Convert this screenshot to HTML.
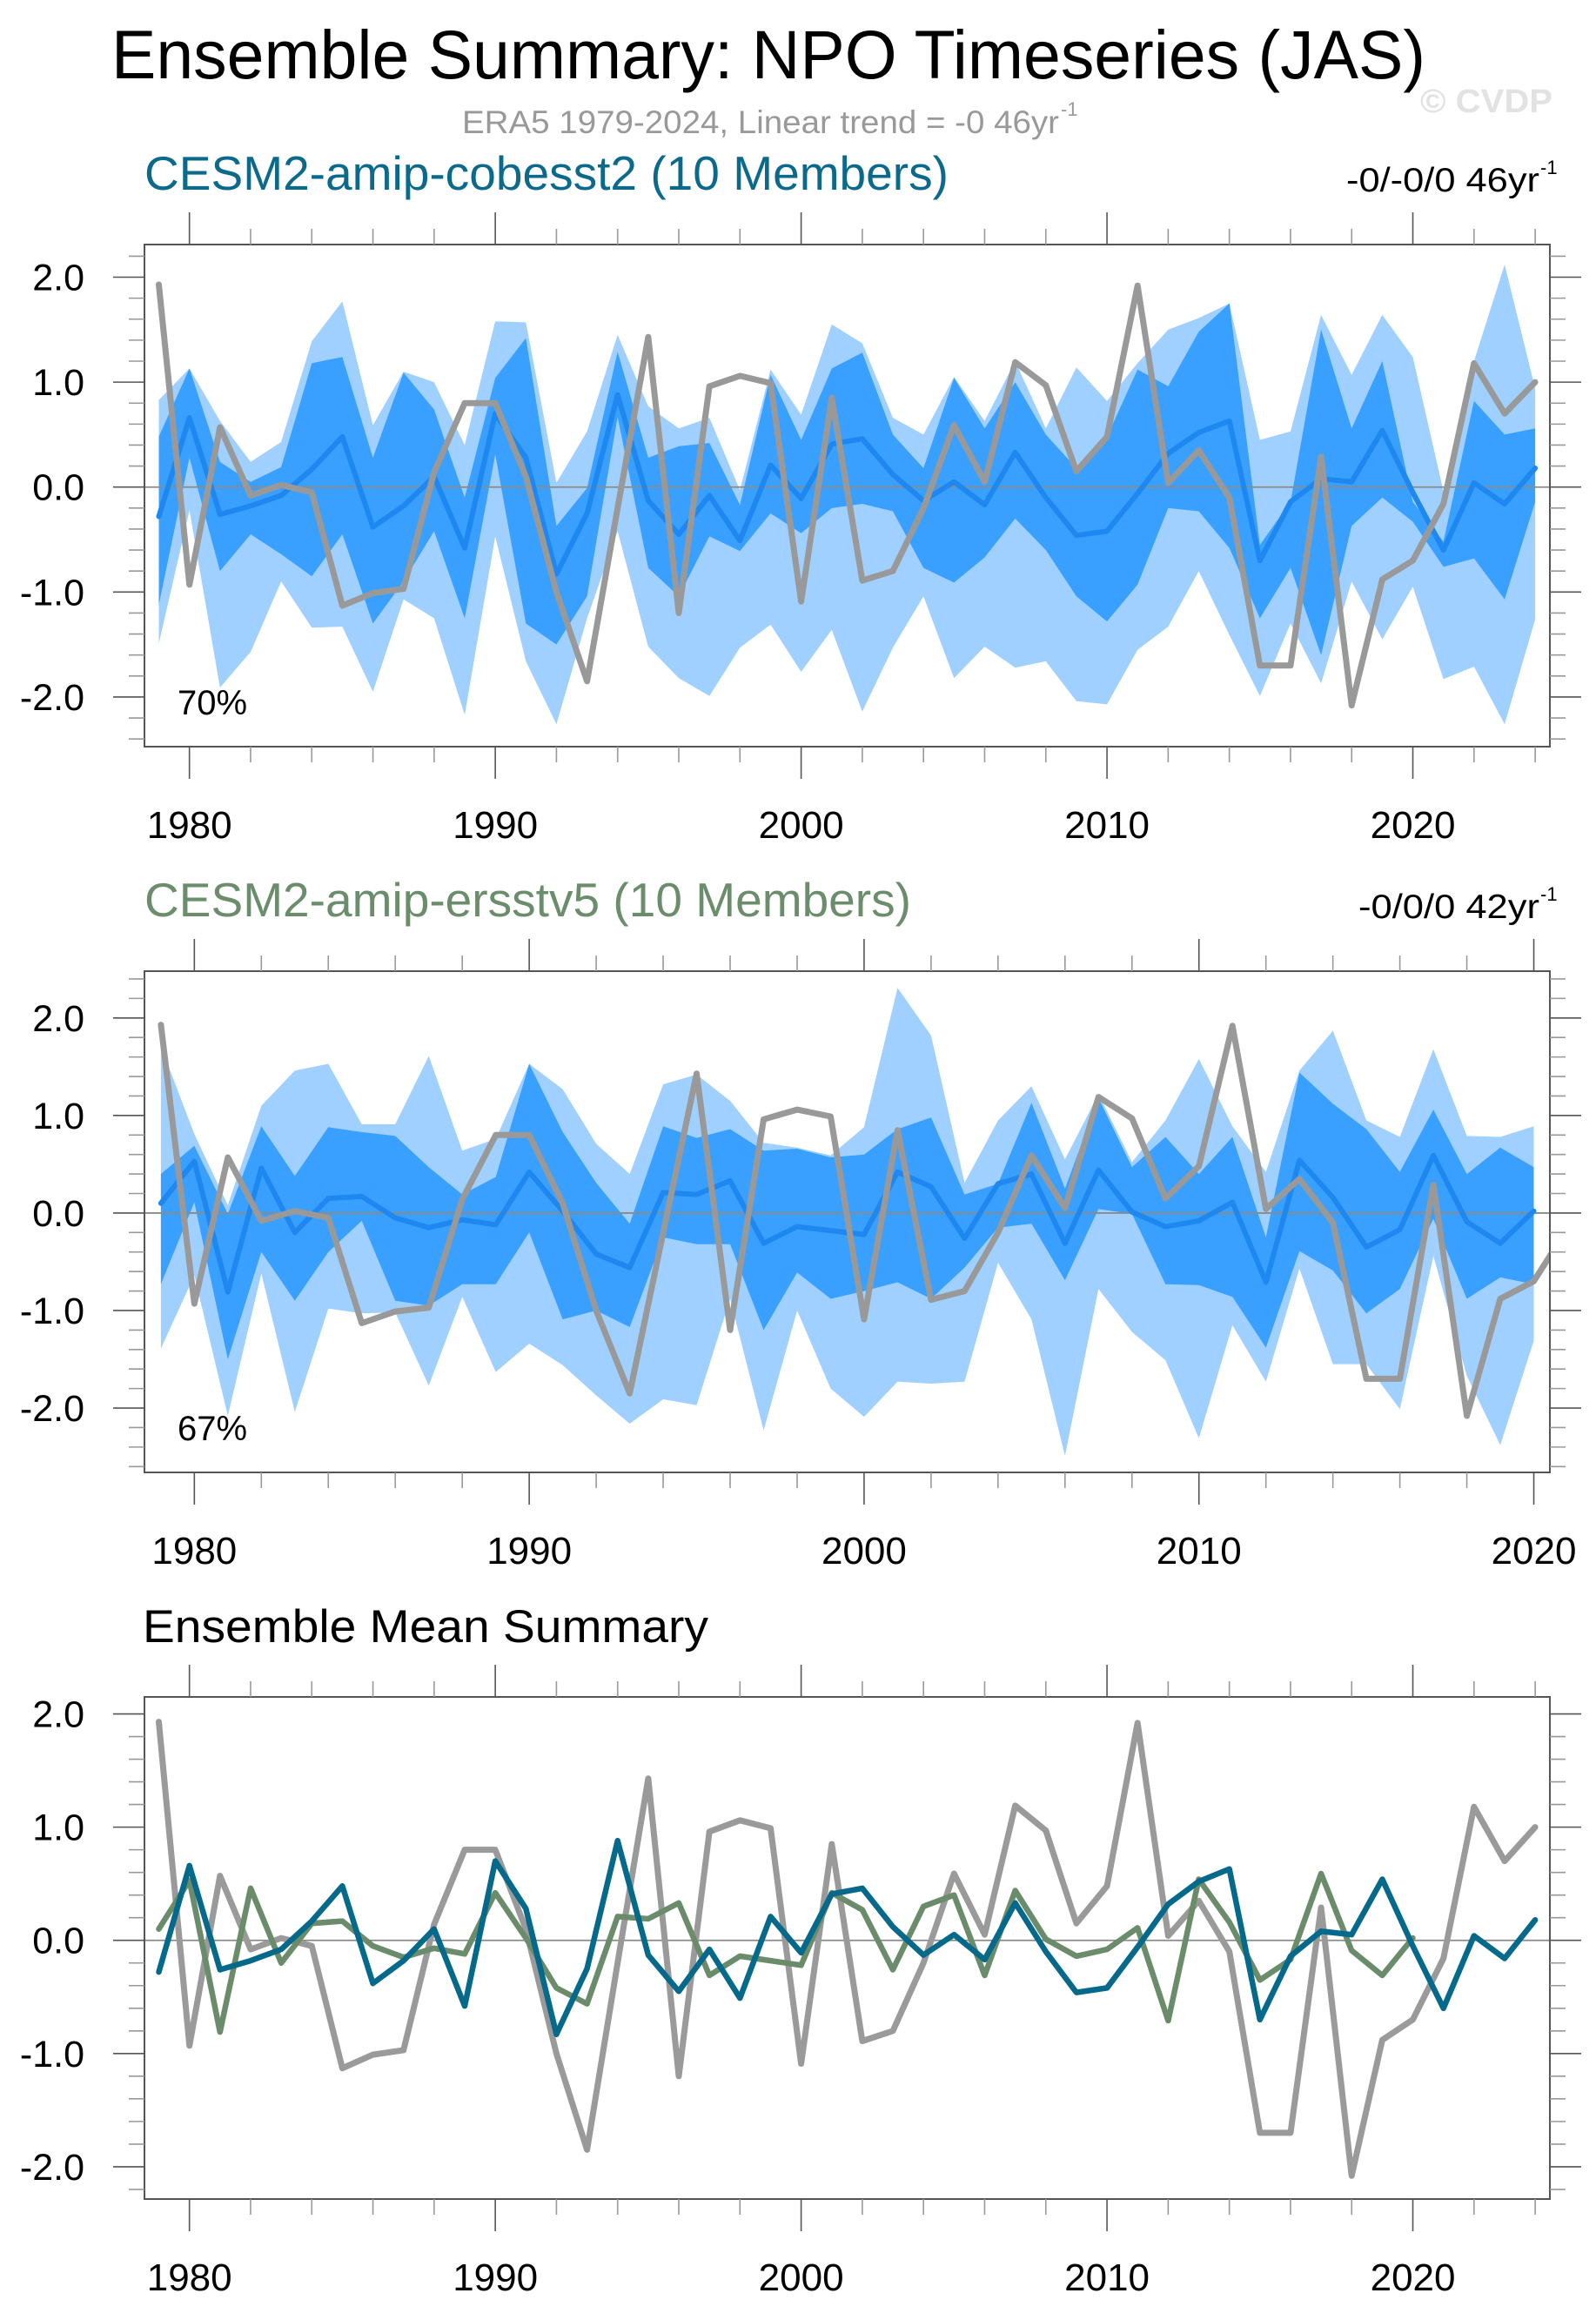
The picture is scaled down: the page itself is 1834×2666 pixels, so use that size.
<!DOCTYPE html>
<html><head><meta charset="utf-8">
<style>
html,body{margin:0;padding:0;background:#fff;}
svg{display:block;font-family:"Liberation Sans",Arial,sans-serif;}
</style></head>
<body>
<svg id="chart" width="1834" height="2666" viewBox="0 0 1834 2666" xmlns="http://www.w3.org/2000/svg">
<rect x="0" y="0" width="1834" height="2666" fill="#fff"/>
<text x="128" y="90" font-size="79" fill="#000" textLength="1510" lengthAdjust="spacingAndGlyphs">Ensemble Summary: NPO Timeseries (JAS)</text>
<text x="1632" y="129" font-size="38" font-weight="bold" fill="#e2e2e2" textLength="152" lengthAdjust="spacingAndGlyphs">© CVDP</text>
<text x="531" y="153" font-size="37" fill="#999" textLength="686" lengthAdjust="spacingAndGlyphs">ERA5 1979-2024, Linear trend = -0 46yr</text>
<text x="1219" y="133" font-size="22" fill="#999">-1</text>
<text x="166" y="218" font-size="55" fill="#0b6a8b" textLength="924" lengthAdjust="spacingAndGlyphs">CESM2-amip-cobesst2 (10 Members)</text>
<text x="1547" y="220" font-size="39" fill="#000" textLength="222" lengthAdjust="spacingAndGlyphs">-0/-0/0 46yr</text>
<text x="1770" y="200" font-size="22" fill="#000">-1</text>
<text x="166" y="1053" font-size="55" fill="#6b8d6b" textLength="881" lengthAdjust="spacingAndGlyphs">CESM2-amip-ersstv5 (10 Members)</text>
<text x="1561" y="1055" font-size="39" fill="#000" textLength="208" lengthAdjust="spacingAndGlyphs">-0/0/0 42yr</text>
<text x="1770" y="1035" font-size="22" fill="#000">-1</text>
<text x="164" y="1887" font-size="53" fill="#000" textLength="650" lengthAdjust="spacingAndGlyphs">Ensemble Mean Summary</text>
</svg>
<script>
// ---- data ----
const years1 = [1979,1980,1981,1982,1983,1984,1985,1986,1987,1988,1989,1990,1991,1992,1993,1994,1995,1996,1997,1998,1999,2000,2001,2002,2003,2004,2005,2006,2007,2008,2009,2010,2011,2012,2013,2014,2015,2016,2017,2018,2019,2020,2021,2022,2023,2024];
const years2 = [1979,1980,1981,1982,1983,1984,1985,1986,1987,1988,1989,1990,1991,1992,1993,1994,1995,1996,1997,1998,1999,2000,2001,2002,2003,2004,2005,2006,2007,2008,2009,2010,2011,2012,2013,2014,2015,2016,2017,2018,2019,2020];
const era5 = [1.93,-0.93,0.57,-0.08,0.02,-0.05,-1.13,-1.01,-0.97,0.14,0.8,0.8,0.1,-1.0,-1.85,-0.2,1.43,-1.2,0.96,1.06,0.99,-1.09,0.85,-0.89,-0.8,-0.2,0.59,0.05,1.19,0.97,0.15,0.48,1.92,0.04,0.35,-0.1,-1.7,-1.7,0.29,-2.08,-0.88,-0.7,-0.16,1.18,0.7,1.0];
const mean1 = [-0.28,0.66,-0.26,-0.18,-0.08,0.17,0.48,-0.38,-0.18,0.1,-0.58,0.7,0.28,-0.83,-0.25,0.88,-0.13,-0.45,-0.08,-0.51,0.21,-0.11,0.41,0.46,0.12,-0.13,0.05,-0.17,0.33,-0.1,-0.46,-0.42,-0.06,0.32,0.52,0.63,-0.7,-0.14,0.08,0.05,0.54,-0.05,-0.6,0.04,-0.16,0.18];
const lightUp1 = [0.83,1.13,0.63,0.24,0.43,1.39,1.77,0.59,1.1,1.0,0.4,1.58,1.57,0.04,0.53,1.45,0.77,0.56,0.66,-0.03,1.12,0.69,1.55,1.37,0.66,0.5,1.05,0.63,1.2,0.56,1.14,0.82,1.18,1.5,1.61,1.75,0.45,0.53,1.64,1.07,1.64,1.24,-0.04,1.2,2.12,0.94];
const darkUp1 = [0.48,1.13,0.24,0.05,0.19,1.18,1.24,0.28,1.09,0.74,-0.1,1.04,1.42,-0.37,-0.01,1.29,0.28,0.39,0.42,-0.17,1.07,0.45,1.13,1.28,0.5,0.18,1.04,0.56,1.0,0.5,0.18,0.48,1.12,0.96,1.48,1.75,-0.55,-0.14,1.5,0.56,1.2,-0.14,-0.52,0.82,0.5,0.56];
const darkLo1 = [-1.12,0.28,-0.8,-0.45,-0.64,-0.85,-0.45,-1.3,-0.9,-0.42,-1.25,0.31,-1.3,-1.5,-1.04,0.67,-0.77,-1.04,-0.47,-0.61,-0.25,-0.44,-0.2,-0.16,-0.23,-0.77,-0.91,-0.67,-0.3,-0.6,-1.04,-1.28,-0.93,-0.2,-0.23,-0.58,-1.25,-0.77,-1.6,-0.37,-0.1,-0.33,-0.76,-0.68,-1.07,-0.14];
const lightLo1 = [-1.49,-0.22,-1.91,-1.57,-0.9,-1.34,-1.33,-1.95,-1.07,-1.25,-2.17,-0.47,-1.66,-2.26,-1.25,-0.42,-1.52,-1.82,-1.99,-1.53,-1.31,-1.76,-1.36,-2.14,-1.53,-1.04,-1.82,-1.52,-1.72,-1.66,-2.04,-2.07,-1.55,-1.33,-0.8,-1.41,-1.99,-1.3,-1.87,-0.9,-1.45,-0.95,-1.83,-1.71,-2.26,-1.26];
const mean2 = [0.1,0.53,-0.81,0.46,-0.2,0.15,0.17,-0.05,-0.15,-0.07,-0.12,0.42,0.02,-0.42,-0.56,0.21,0.19,0.33,-0.31,-0.14,-0.18,-0.22,0.42,0.27,-0.26,0.3,0.4,-0.31,0.44,0.01,-0.14,-0.08,0.11,-0.71,0.54,0.16,-0.35,-0.17,0.59,-0.09,-0.31,0.02];
const lightUp2 = [1.71,0.81,0.08,1.1,1.46,1.53,0.91,0.91,1.61,0.64,0.76,1.53,1.27,0.71,0.4,1.32,1.42,1.15,0.72,0.67,0.59,0.88,2.31,1.82,0.31,0.95,1.3,0.55,1.22,0.52,0.95,1.58,0.89,0.42,1.46,1.87,0.95,0.78,1.68,0.79,0.78,0.89];
const darkUp2 = [0.4,0.69,-0.01,0.89,0.38,0.88,0.83,0.79,0.47,0.19,0.37,1.53,0.83,0.31,-0.11,0.89,0.77,0.86,0.64,0.66,0.57,0.6,0.86,0.98,0.19,0.3,1.13,0.25,1.18,0.47,0.78,0.4,0.78,-0.25,1.44,1.12,0.86,0.42,1.06,0.4,0.67,0.47];
const darkLo2 = [-0.73,0.11,-1.5,-0.4,-0.9,-0.4,-0.08,-0.9,-0.95,-0.73,-0.73,-0.2,-1.09,-1.0,-1.17,-0.25,-0.32,-0.32,-1.2,-0.61,-0.88,-0.8,-0.71,-0.88,-0.56,-0.15,-0.11,-0.69,0.04,-0.01,-0.73,-0.74,-0.86,-1.38,-0.39,-0.59,-1.03,-0.78,-0.06,-0.88,-0.66,-0.73];
const lightLo2 = [-1.39,-0.64,-2.08,-0.62,-2.04,-0.98,-1.03,-1.02,-1.77,-0.86,-1.63,-1.34,-1.56,-1.87,-2.16,-1.91,-1.97,-0.88,-2.23,-1.0,-1.8,-2.09,-1.73,-1.75,-1.73,-0.51,-1.09,-2.49,-0.78,-1.22,-1.51,-2.31,-1.15,-1.73,-0.57,-1.55,-1.55,-2.01,-0.44,-1.67,-2.38,-1.31];
const yTickLabels = ["-2.0","-1.0","0.0","1.0","2.0"];
const xTickLabels1 = ["1980","1990","2000","2010","2020"];
const xTickLabels2 = ["1980","1990","2000","2010","2020"];

const NS = "http://www.w3.org/2000/svg";
const svg = document.getElementById("chart");
function mk(tag, attrs, parent) {
  const e = document.createElementNS(NS, tag);
  for (const k in attrs) e.setAttribute(k, attrs[k]);
  (parent || svg).appendChild(e);
  return e;
}
function makePanel(p) {
  const g = mk("g", {});
  
  
  const sx = v => p.left + (v - p.x0) / (p.x1 - p.x0) * (p.right - p.left);
  const sy = v => p.bottom - (v - p.y0) / (p.y1 - p.y0) * (p.bottom - p.top);
  const clipId = "clip-" + p.name;
  const cp = mk("clipPath", {id: clipId}, g);
  mk("rect", {x: p.left, y: p.top, width: p.right - p.left, height: p.bottom - p.top}, cp);
  const inner = mk("g", {"clip-path": "url(#" + clipId + ")"}, g);
  function band(years, up, lo, color, name) {
    let pts = years.map((y, i) => sx(y).toFixed(1) + "," + sy(up[i]).toFixed(1));
    for (let i = years.length - 1; i >= 0; i--) pts.push(sx(years[i]).toFixed(1) + "," + sy(lo[i]).toFixed(1));
    const el = mk("polygon", {points: pts.join(" "), fill: color}, inner);
    
    
  }
  function line(years, vals, color, w, name) {
    const pts = years.map((y, i) => sx(y).toFixed(1) + "," + sy(vals[i]).toFixed(1)).join(" ");
    const el = mk("polyline", {points: pts, fill: "none", stroke: color, "stroke-width": w, "stroke-linejoin": "round", "stroke-linecap": "round"}, inner);
    
    
  }
  if (p.bands) {
    band(p.years, p.bands[0], p.bands[3], "#a0d0ff", "range-band-light");
    band(p.years, p.bands[1], p.bands[2], "#3aa0ff", "range-band-dark");
  }
  const zl = mk("line", {x1: p.left, x2: p.right, y1: sy(0), y2: sy(0), stroke: "#8a8a8a", "stroke-width": 1.8}, inner);
  
  
  p.lines.forEach(l => line(l.years, l.vals, l.color, l.w, l.name));
  const box = mk("rect", {x: p.left, y: p.top, width: p.right - p.left, height: p.bottom - p.top, fill: "none", stroke: "#555", "stroke-width": 2}, g);
  
  
  for (let k = Math.ceil(p.y0 * 5); k <= Math.floor(p.y1 * 5); k++) {
    const v = k / 5, y = sy(v), major = (k % 5 === 0), L = major ? 36 : 18;
    const c = major ? "#555" : "#999";
    mk("line", {x1: p.left, x2: p.left - L, y1: y, y2: y, stroke: c, "stroke-width": 1.6}, g);
    mk("line", {x1: p.right, x2: p.right + L, y1: y, y2: y, stroke: c, "stroke-width": 1.6}, g);
  }
  yTickLabels.forEach(s => {
    const v = parseFloat(s);
    const t = mk("text", {x: 97, y: sy(v) + 15, "font-size": 43, "text-anchor": "end", fill: "#000"}, g);
    t.textContent = s;
    
    
  });
  for (let yr = 1978; yr <= 2030; yr += 2) {
    if (yr < p.x0 || yr > p.x1) continue;
    const x = sx(yr), major = (yr % 10 === 0), L = major ? 37 : 18;
    const c = major ? "#555" : "#999";
    mk("line", {x1: x, x2: x, y1: p.bottom, y2: p.bottom + L, stroke: c, "stroke-width": 1.6}, g);
    mk("line", {x1: x, x2: x, y1: p.top, y2: p.top - L, stroke: c, "stroke-width": 1.6}, g);
  }
  p.xLabels.forEach(s => {
    const t = mk("text", {x: sx(parseFloat(s)), y: p.bottom + 105, "font-size": 44, "text-anchor": "middle", fill: "#000"}, g);
    t.textContent = s;
    
    
  });
  if (p.pct) {
    const t = mk("text", {x: 204, y: p.pctY, "font-size": 40, fill: "#000"}, g);
    t.textContent = p.pct;
    
    
  }
}
makePanel({name: "panel-cobesst2", left: 166, right: 1781, top: 281, bottom: 858,
  x0: 1978.53, x1: 2024.48, y0: -2.473, y1: 2.311, years: years1,
  bands: [lightUp1, darkUp1, darkLo1, lightLo1],
  lines: [{years: years1, vals: mean1, color: "#1e88f0", w: 6, name: "ensemble-mean-line"},
          {years: years1, vals: era5, color: "#999", w: 7, name: "era5-line"}],
  xLabels: xTickLabels1, pct: "70%", pctY: 821});
makePanel({name: "panel-ersstv5", left: 166, right: 1781, top: 1116, bottom: 1692,
  x0: 1978.51, x1: 2020.48, y0: -2.66, y1: 2.48, years: years2,
  bands: [lightUp2, darkUp2, darkLo2, lightLo2],
  lines: [{years: years2, vals: mean2, color: "#1e88f0", w: 6, name: "ensemble-mean-line"},
          {years: years1, vals: era5, color: "#999", w: 7, name: "era5-line"}],
  xLabels: xTickLabels2, pct: "67%", pctY: 1655});
makePanel({name: "panel-mean-summary", left: 166, right: 1781, top: 1950, bottom: 2527,
  x0: 1978.53, x1: 2024.48, y0: -2.285, y1: 2.15, years: years1, bands: null,
  lines: [{years: years1, vals: era5, color: "#9a9a9a", w: 7, name: "era5-line"},
          {years: years2, vals: mean2, color: "#6a8c6a", w: 6.5, name: "ersstv5-mean-line"},
          {years: years1, vals: mean1, color: "#04698a", w: 6.5, name: "cobesst2-mean-line"}],
  xLabels: xTickLabels1});
</script>
</body></html>
